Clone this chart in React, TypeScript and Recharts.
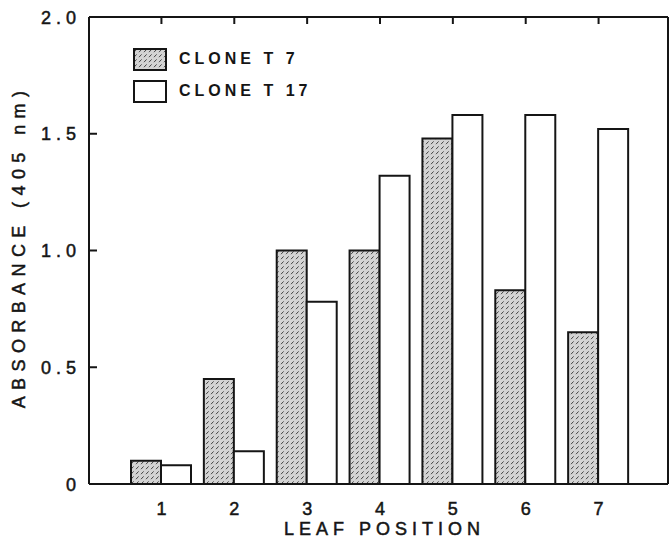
import React from 'react';
import { BarChart, Bar, XAxis, YAxis, Legend } from 'recharts';

const leafPositions = ['1', '2', '3', '4', '5', '6', '7'];
const cloneT7 = [0.1, 0.45, 1.0, 1.0, 1.48, 0.83, 0.65];
const cloneT17 = [0.08, 0.14, 0.78, 1.32, 1.58, 1.58, 1.52];
const yTicks = [0, 0.5, 1.0, 1.5, 2.0];
const rightTicks = [0.5, 1.0, 1.5];
const seriesOrder = ['t7', 't17'];

const FONT = '"Liberation Sans", Arial, Helvetica, sans-serif';
const INK = '#151515';
// thin outline on the text gives the medium weight of the printed figure
const textInk = { fontFamily: FONT, fontSize: 18, fill: INK, stroke: INK, strokeWidth: 0.5 };

const data = leafPositions.map((pos, i) => ({ pos, t7: cloneT7[i], t17: cloneT17[i] }));

const HatchDef: React.FC<{ id: string }> = ({ id }) => (
  <pattern id={id} patternUnits="userSpaceOnUse" width="5" height="5">
    <rect width="5" height="5" fill="#d4d4d4" />
    <path d="M1,4.2 L3.6,1.4" stroke="#444" strokeWidth="1" />
  </pattern>
);

const LegendBox: React.FC<any> = ({ payload }) => {
  const items = [...(payload || [])].sort(
    (a: any, b: any) => seriesOrder.indexOf(a.dataKey) - seriesOrder.indexOf(b.dataKey)
  );
  return (
    <div style={{ fontFamily: FONT }}>
      {items.map((entry: any, i: number) => (
        <div key={entry.value} style={{ display: 'flex', alignItems: 'center', height: 22, marginBottom: 10 }}>
          <svg width={34} height={23} style={{ display: 'block' }}>
            <defs>
              <HatchDef id={`legendHatch${i}`} />
            </defs>
            <rect x={1} y={1} width={32} height={21} fill={entry.dataKey === 't7' ? `url(#legendHatch${i})` : '#fff'}
              stroke={INK} strokeWidth={2} />
          </svg>
          <span style={{ marginLeft: 12, fontSize: 16, fontWeight: 700, letterSpacing: 4, color: INK }}>{entry.value}</span>
        </div>
      ))}
    </div>
  );
};

const XTick: React.FC<any> = ({ x, y, payload }) => (
  <text x={x} y={y} dy={13} textAnchor="middle" style={textInk}>
    {payload.value}
  </text>
);

const YTick: React.FC<any> = ({ x, y, payload }) => (
  <text x={x} y={y} dx={5} dy={6.5} textAnchor="end" style={{ ...textInk, letterSpacing: 5 }}>
    {payload.value === 0 ? '0' : payload.value.toFixed(1)}
  </text>
);

const NoTick = () => <g />;

const YTitle: React.FC<any> = ({ viewBox }) => {
  const cx = viewBox.x + 19;
  const cy = viewBox.y + viewBox.height / 2 - 4;
  return (
    <text x={cx} y={cy} transform={`rotate(-90, ${cx}, ${cy})`} textAnchor="middle" dominantBaseline="central"
      style={{ ...textInk, letterSpacing: 6.4 }}>
      ABSORBANCE (405 nm)
    </text>
  );
};

const XTitle: React.FC<any> = ({ viewBox }) => (
  <text x={viewBox.x + viewBox.width / 2 + 6} y={viewBox.y + viewBox.height - 4} textAnchor="middle"
    style={{ ...textInk, letterSpacing: 5 }}>
    LEAF POSITION
  </text>
);

const App: React.FC = () => {
  const axisStroke = { stroke: INK, strokeWidth: 2 };
  return (
    <div style={{ position: 'absolute', left: 0, top: 0, width: 670, height: 539, background: '#fff' }}>
      <BarChart width={670} height={539} data={data} margin={{ top: 16, right: 1, left: 0, bottom: 0 }} barGap={0} barSize={30}>
        <defs>
          <HatchDef id="barHatch" />
        </defs>
        <XAxis dataKey="pos" height={55} padding={{ left: 36, right: 33 }} tickLine={false} tickSize={0} tickMargin={18}
          axisLine={axisStroke} tick={<XTick />} label={<XTitle />} />
        <XAxis xAxisId="top" dataKey="pos" orientation="top" height={1} padding={{ left: 36, right: 33 }}
          tick={NoTick} tickSize={-7} tickLine={axisStroke} axisLine={axisStroke} />
        <YAxis width={89} domain={[0, 2]} ticks={yTicks} tickSize={-8} tickMargin={21} tickLine={axisStroke}
          axisLine={axisStroke} tick={<YTick />} label={<YTitle />} />
        <YAxis yAxisId="right" orientation="right" width={1} domain={[0, 2]} ticks={rightTicks} tickSize={-8}
          tick={NoTick} tickLine={axisStroke} axisLine={axisStroke} />
        <Legend layout="vertical" align="center" verticalAlign="middle" content={<LegendBox />}
          wrapperStyle={{ left: 133, top: 48, width: 220 }} />
        <Bar dataKey="t7" name="CLONE T 7" fill="url(#barHatch)" stroke={INK} strokeWidth={2} isAnimationActive={false} />
        <Bar dataKey="t17" name="CLONE T 17" fill="#fff" stroke={INK} strokeWidth={2} isAnimationActive={false} />
      </BarChart>
    </div>
  );
};

export default App;
